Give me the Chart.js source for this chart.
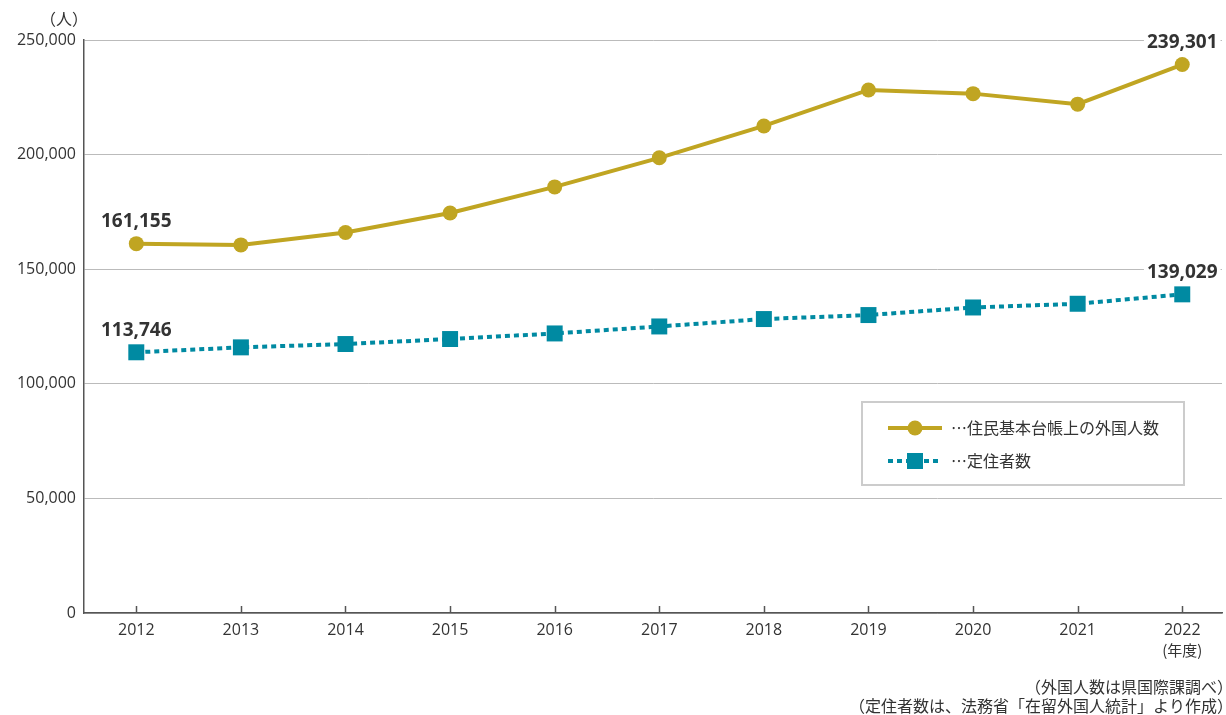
<!DOCTYPE html>
<html><head><meta charset="utf-8">
<script src="https://cdn.jsdelivr.net/npm/chart.js@4.4.1/dist/chart.umd.min.js"></script>
<style>
html,body{margin:0;padding:0;background:#fff;}
#wrap{position:relative;width:1226px;height:715px;}
</style></head>
<body><div id="wrap"><canvas id="c" width="1226" height="715"></canvas></div>
<script>
const years = [2012,2013,2014,2015,2016,2017,2018,2019,2020,2021,2022];
const residents = [161155,160600,166000,174500,185900,198600,212500,228200,226600,222000,239301];
const settled = [113746,115900,117350,119530,121970,125020,128250,129990,133300,134920,139029];
const yTicks = [0,50000,100000,150000,200000,250000];
const seriesNames = ['…住民基本台帳上の外国人数','…定住者数'];
const unitLabel = '（人）';
const xUnitLabel = '(年度)';
const notes = ['（外国人数は県国際課調べ）','（定住者数は、法務省「在留外国人統計」より作成）'];

const FONT = "'Noto Sans CJK JP','Noto Sans',sans-serif";
const NUMFONT = "'Open Sans','Noto Sans',sans-serif";
const GOLD = '#C0A522', TEAL = '#008AA2', TXT = '#333333';

const fmt = v => v.toLocaleString('en-US');

const extras = {
  id:'extras',
  afterDraw(chart){
    const ctx = chart.ctx, xs = chart.scales.x, ys = chart.scales.y;
    ctx.save();
    // inner x ticks
    ctx.strokeStyle='#555'; ctx.lineWidth=1.5;
    years.forEach(y=>{ const px=Math.round(xs.getPixelForValue(y))+0.5; ctx.beginPath(); ctx.moveTo(px,ys.bottom); ctx.lineTo(px,ys.bottom-7); ctx.stroke(); });
    // value labels
    ctx.font = "bold 19px "+NUMFONT; ctx.textAlign='center'; ctx.textBaseline='middle';
    chart.data.datasets.forEach((ds,di)=>{
      const meta = chart.getDatasetMeta(di);
      [0, ds.data.length-1].forEach(i=>{
        const pt = meta.data[i]; const txt = fmt(ds.data[i].y);
        const ty = pt.y - 23; const w = ctx.measureText(txt).width;
        ctx.fillStyle='#fff'; ctx.fillRect(pt.x-w/2-3, ty-10, w+6, 20);
        ctx.fillStyle=TXT; ctx.fillText(txt, pt.x, ty+1);
      });
    });
    // unit labels
    ctx.font = "16px "+FONT; ctx.fillStyle=TXT; ctx.textAlign='center';
    ctx.fillText(unitLabel, 64, 19);
    ctx.font = "15px "+FONT;
    ctx.fillText(xUnitLabel, xs.getPixelForValue(years[years.length-1]), 650);
    ctx.font = "16px "+FONT; ctx.textAlign='right';
    ctx.fillText(notes[0], 1233, 687);
    ctx.fillText(notes[1], 1233, 706);
    // legend
    ctx.lineWidth=2; ctx.strokeStyle='#cccccc';
    ctx.strokeRect(862, 402, 322, 83);
    const items = [{y:428, ds:chart.data.datasets[0]},{y:461, ds:chart.data.datasets[1]}];
    items.forEach((it,k)=>{
      ctx.strokeStyle = it.ds.borderColor; ctx.lineWidth = 4;
      ctx.setLineDash(k===0?[]:[5,4]);
      ctx.beginPath(); ctx.moveTo(888,it.y); ctx.lineTo(942,it.y); ctx.stroke();
      ctx.setLineDash([]);
      ctx.fillStyle = it.ds.borderColor;
      if(k===0){ ctx.beginPath(); ctx.arc(915,it.y,7.5,0,Math.PI*2); ctx.fill(); }
      else { ctx.fillRect(907,it.y-8,16,16); }
      ctx.fillStyle=TXT; ctx.font="16px "+FONT; ctx.textAlign='left';
      ctx.fillText(it.ds.label, 951, it.y);
    });
    ctx.restore();
  }
};

new Chart(document.getElementById('c'), {
  type:'line',
  data:{
    datasets:[
      {label:seriesNames[0], data:years.map((y,i)=>({x:y,y:residents[i]})), borderColor:GOLD, backgroundColor:GOLD,
       borderWidth:4, pointRadius:7.5, pointHoverRadius:7.5, pointStyle:'circle', pointBorderWidth:0, tension:0},
      {label:seriesNames[1], data:years.map((y,i)=>({x:y,y:settled[i]})), borderColor:TEAL, backgroundColor:TEAL,
       borderWidth:4, borderDash:[5,4], pointRadius:11.3, pointHoverRadius:11.3, pointStyle:'rect', pointBorderWidth:0, tension:0}
    ]
  },
  options:{
    responsive:false, animation:false, devicePixelRatio:1,
    layout:{autoPadding:false, padding:{top:40,right:4,left:0,bottom:0}},
    plugins:{legend:{display:false}, tooltip:{enabled:false}},
    scales:{
      x:{type:'linear', min:2011.5, max:2022.38,
         afterBuildTicks(s){ s.ticks = years.map(v=>({value:v})); },
         afterFit(s){ s.height = 102; s.paddingLeft = 0; s.paddingRight = 0; },
         grid:{display:false, drawTicks:false},
         border:{color:'#555', width:1.5},
         ticks:{padding:8, color:TXT, font:{family:NUMFONT, size:16}, callback:v=>String(v)}},
      y:{min:0, max:250000,
         afterBuildTicks(s){ s.ticks = yTicks.map(v=>({value:v})); },
         afterFit(s){ s.width = 84; s.paddingTop = 0; s.paddingBottom = 0; },
         grid:{color:'#bbbbbb', lineWidth:1, drawTicks:false},
         border:{color:'#555', width:1.5},
         ticks:{padding:8, color:TXT, font:{family:NUMFONT, size:16}, callback:v=>fmt(v)}}
    }
  },
  plugins:[extras]
});
</script></body></html>
